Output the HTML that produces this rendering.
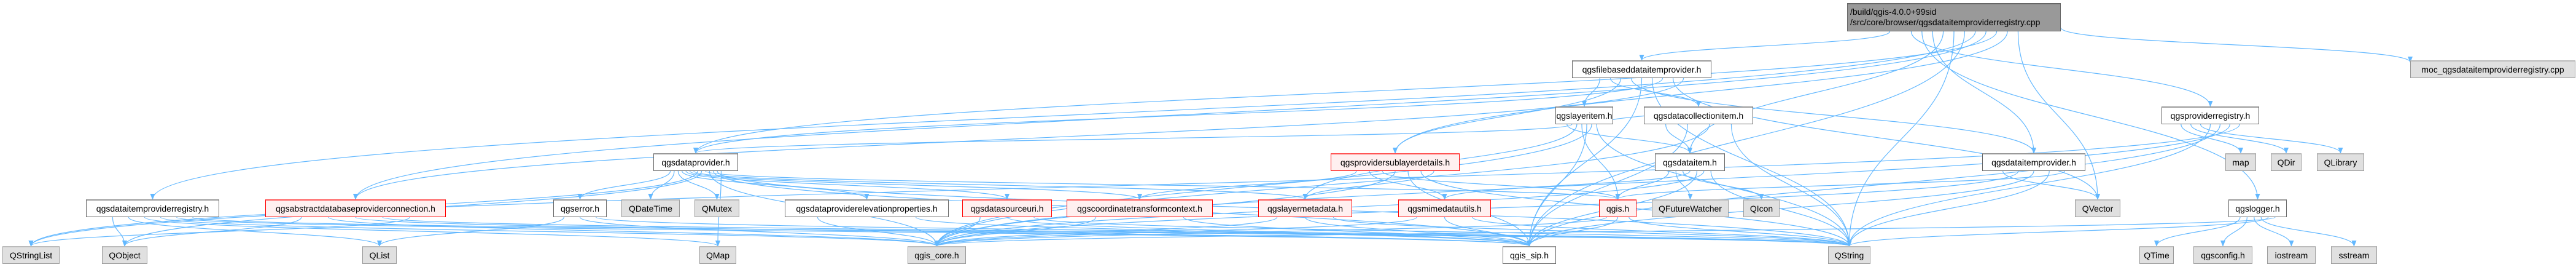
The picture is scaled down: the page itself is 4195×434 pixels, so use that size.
<!DOCTYPE html>
<html><head><meta charset="utf-8"><style>
html,body{margin:0;padding:0;background:#fff;}
#c{position:relative;width:4195px;height:434px;overflow:hidden;font-family:"Liberation Sans",sans-serif;}
.n{position:absolute;box-sizing:border-box;height:29px;border:1px solid #666;border-top:2px solid #999;background:#fff;font-size:14px;line-height:26px;text-align:center;color:#000;white-space:nowrap;z-index:2;}
.r{border-color:#f00;border-top-color:#f55;background:#fff0f0;}
.g{border-color:#999;border-top-color:#bbb;background:#e0e0e0;}
svg{position:absolute;left:0;top:0;z-index:1;}
</style></head><body><div id="c">
<svg id="s" width="4195" height="434"><defs><marker id="a" markerWidth="10" markerHeight="8" refX="9" refY="4" orient="auto" markerUnits="userSpaceOnUse"><path d="M0,0L10,4L0,8z" fill="#63b8ff"/></marker></defs></svg>
<div class="n" style="left:3008px;top:5px;width:348px;height:46px;background:#999;border-color:#666;line-height:17px;text-align:left;padding:4px 4px;">/build/qgis-4.0.0+99sid<br>/src/core/browser/qgsdataitemproviderregistry.cpp</div>
<div class="n" style="left:2560px;top:98px;width:227px">qgsfilebaseddataitemprovider.h</div>
<div class="n g" style="left:3925px;top:98px;width:269px">moc_qgsdataitemproviderregistry.cpp</div>
<div class="n" style="left:2533px;top:173px;width:94px">qgslayeritem.h</div>
<div class="n" style="left:2677px;top:173px;width:178px">qgsdatacollectionitem.h</div>
<div class="n" style="left:3520px;top:173px;width:159px">qgsproviderregistry.h</div>
<div class="n" style="left:1064px;top:249px;width:138px">qgsdataprovider.h</div>
<div class="n r" style="left:2167px;top:249px;width:210px">qgsprovidersublayerdetails.h</div>
<div class="n" style="left:2695px;top:249px;width:114px">qgsdataitem.h</div>
<div class="n" style="left:3228px;top:249px;width:168px">qgsdataitemprovider.h</div>
<div class="n g" style="left:3624px;top:249px;width:50px">map</div>
<div class="n g" style="left:3698px;top:249px;width:50px">QDir</div>
<div class="n g" style="left:3773px;top:249px;width:77px">QLibrary</div>
<div class="n" style="left:140px;top:324px;width:217px">qgsdataitemproviderregistry.h</div>
<div class="n r" style="left:432px;top:324px;width:294px">qgsabstractdatabaseproviderconnection.h</div>
<div class="n" style="left:901px;top:324px;width:87px">qgserror.h</div>
<div class="n g" style="left:1012px;top:324px;width:95px">QDateTime</div>
<div class="n g" style="left:1131px;top:324px;width:73px">QMutex</div>
<div class="n" style="left:1278px;top:324px;width:267px">qgsdataproviderelevationproperties.h</div>
<div class="n r" style="left:1567px;top:324px;width:146px">qgsdatasourceuri.h</div>
<div class="n r" style="left:1737px;top:324px;width:238px">qgscoordinatetransformcontext.h</div>
<div class="n r" style="left:2049px;top:324px;width:153px">qgslayermetadata.h</div>
<div class="n r" style="left:2277px;top:324px;width:151px">qgsmimedatautils.h</div>
<div class="n r" style="left:2604px;top:324px;width:61px">qgis.h</div>
<div class="n g" style="left:2690px;top:324px;width:125px">QFutureWatcher</div>
<div class="n g" style="left:2839px;top:324px;width:59px">QIcon</div>
<div class="n g" style="left:3379px;top:324px;width:74px">QVector</div>
<div class="n" style="left:3629px;top:324px;width:95px">qgslogger.h</div>
<div class="n g" style="left:4px;top:400px;width:93px">QStringList</div>
<div class="n g" style="left:166px;top:400px;width:74px">QObject</div>
<div class="n g" style="left:590px;top:400px;width:56px">QList</div>
<div class="n g" style="left:1139px;top:400px;width:60px">QMap</div>
<div class="n g" style="left:1478px;top:400px;width:95px">qgis_core.h</div>
<div class="n" style="left:2447px;top:400px;width:87px">qgis_sip.h</div>
<div class="n g" style="left:2977px;top:400px;width:69px">QString</div>
<div class="n g" style="left:3484px;top:400px;width:56px">QTime</div>
<div class="n g" style="left:3572px;top:400px;width:96px">qgsconfig.h</div>
<div class="n g" style="left:3692px;top:400px;width:79px">iostream</div>
<div class="n g" style="left:3796px;top:400px;width:75px">sstream</div>
</div>
<script>
var N={root:[3008,5,348,46],fb:[2560,98,227],moc:[3925,98,269],li:[2533,173,94],dc:[2677,173,178],pr:[3520,173,159],
dp:[1064,249,138],sl:[2167,249,210],di:[2695,249,114],dip:[3228,249,168],map:[3624,249,50],qdir:[3698,249,50],qlib:[3773,249,77],
reg:[140,324,217],adb:[432,324,294],err:[901,324,87],qdt:[1012,324,95],qmu:[1131,324,73],elev:[1278,324,267],dsu:[1567,324,146],
ctc:[1737,324,238],lm:[2049,324,153],mime:[2277,324,151],qgis:[2604,324,61],qfw:[2690,324,125],qicon:[2839,324,59],qvec:[3379,324,74],log:[3629,324,95],
qsl:[4,400,93],qobj:[166,400,74],qlist:[590,400,56],qmap:[1139,400,60],core:[1478,400,95],sip:[2447,400,87],qstr:[2977,400,69],
qtime:[3484,400,56],cfg:[3572,400,96],ios:[3692,400,79],sst:[3796,400,75]};
var E={root:['fb','moc','pr','log','dip','di','qstr','sip','reg','adb','dp','sl','qvec'],
fb:['li','dc','sl','dip','sip','qstr','dp','qvec','adb'],
li:['di','dp','lm','qgis','sip','core','qstr','dc'],
dc:['di','sip','core','qstr'],
di:['qgis','qfw','qicon','mime','sip','core','qstr'],
dp:['err','qdt','qmu','elev','dsu','ctc','lm','qsl','qobj','qgis','core','sip','qstr','qmap'],
sl:['ctc','mime','qgis','core','sip','qstr','lm'],
dip:['qvec','core','sip','qstr','qgis'],
pr:['map','qdir','qlib','qstr','sip','core','qsl'],
log:['qtime','cfg','ios','sst','qstr','core'],
reg:['qobj','qlist','qmap','core','sip','qstr'],
adb:['qobj','core','sip','qstr','qsl'],
err:['qlist','core','qstr'],elev:['core','sip'],dsu:['core','sip','qstr'],ctc:['core','sip'],
lm:['core','sip','qstr'],mime:['core','sip','qstr'],qgis:['core','sip','qstr']};
var s=document.getElementById('s'),h='';
for(var a in E){var A=N[a],ah=A[3]||29;E[a].forEach(function(b,i,arr){var B=N[b];
var x1=A[0]+A[2]*(0.2+0.6*(arr.length>1?i/(arr.length-1):0.5)),y1=A[1]+ah,x2=B[0]+B[2]/2,y2=B[1];
if(b=='moc'){x1=A[0]+A[2];y1=A[1]+40;x2=B[0];y2=B[1]+3;}
var m=(y1+y2)/2;
h+='<path d="M'+x1+' '+y1+'C'+x1+' '+m+' '+x2+' '+m+' '+x2+' '+y2+'" fill="none" stroke="#63b8ff" stroke-width="1.2" marker-end="url(#a)"/>';});}
s.insertAdjacentHTML('beforeend',h);
</script>
</body></html>
